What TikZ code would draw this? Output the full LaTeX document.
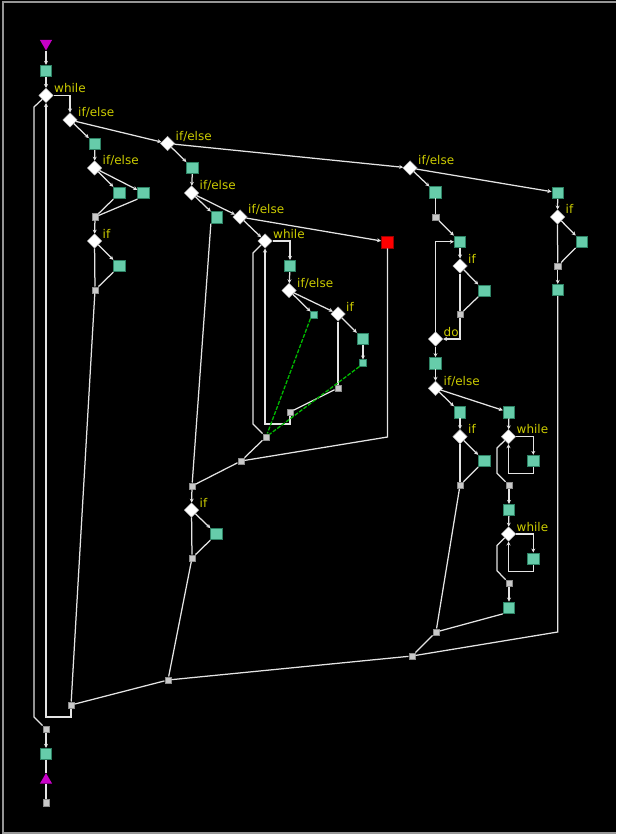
\documentclass[tikz,border=0pt]{standalone}
\usepackage{fontspec}
\setmainfont{DejaVu Sans}
\usetikzlibrary{shapes.geometric,arrows.meta,calc}

\definecolor{edge}{RGB}{228,228,228}
\definecolor{stmt}{RGB}{102,204,170}
\definecolor{stmtb}{RGB}{45,130,100}
\definecolor{joinf}{RGB}{200,200,200}
\definecolor{joinb}{RGB}{140,140,140}
\definecolor{kw}{RGB}{204,204,0}
\definecolor{jump}{RGB}{0,185,0}
\definecolor{term}{RGB}{200,0,200}
\definecolor{halt}{RGB}{255,0,0}
\definecolor{framec}{RGB}{150,150,150}

\begin{document}
\begin{tikzpicture}[x=1pt,y=-1pt,
  stmtbox/.style={draw=stmtb, fill=stmt, line width=0.8pt, minimum size=11.5pt, inner sep=0pt},
  brk/.style={draw=stmtb, fill=stmt, line width=0.6pt, minimum size=6.5pt, inner sep=0pt},
  cond/.style={diamond, draw=gray!60, fill=white, line width=0.5pt, minimum width=14.5pt, minimum height=14.5pt, inner sep=0pt},
  mergept/.style={draw=joinb, fill=joinf, line width=0.5pt, minimum size=6.5pt, inner sep=0pt},
  haltbox/.style={draw=red!60!black, fill=halt, line width=0.8pt, minimum size=12pt, inner sep=0pt},
  entry/.style={regular polygon, regular polygon sides=3, shape border rotate=180, fill=term, minimum size=14pt, inner sep=0pt},
  exitmark/.style={regular polygon, regular polygon sides=3, fill=term, minimum size=14pt, inner sep=0pt},
  kwl/.style={text=kw, font=\fontsize{12}{14}\selectfont, anchor=base west, inner sep=0pt},
  ln/.style={draw=edge, line width=1.25pt},
  arr/.style={ln, -{Stealth[length=4pt,width=4pt]}},
  jmp/.style={draw=jump, line width=1.3pt, dash pattern=on 4pt off 1.5pt},
]
% canvas and frame
\useasboundingbox (0,0) rectangle (616,834);
\fill[black] (0,0) rectangle (616,834);
\draw[framec, line width=1.2pt] (3,834) -- (3,2) -- (616,2);
\draw[framec, line width=1.2pt] (3,833) -- (616,833);

% ---------- left column ----------
\node[entry] (tS) at (46,43.5) {};
\node[stmtbox] (s0) at (46,71) {};
\node[cond] (w1) at (46,95.5) {};
\node[cond] (e1) at (70,120) {};
\node[stmtbox] (s1) at (95,144) {};
\node[cond] (e2) at (94.5,168) {};
\node[stmtbox] (s2) at (119.5,193) {};
\node[stmtbox] (s3) at (143.5,193) {};
\node[mergept] (j1) at (95,217) {};
\node[cond] (i1) at (94.5,241) {};
\node[stmtbox] (s4) at (119.5,266) {};
\node[mergept] (j2) at (95,290) {};

% ---------- second column ----------
\node[cond] (e3) at (167.5,143.5) {};
\node[stmtbox] (s5) at (192.5,168) {};
\node[cond] (e4) at (191.5,193) {};
\node[stmtbox] (s6) at (217,217.5) {};
\node[cond] (e5) at (240,217) {};
\node[cond] (w2) at (265,241) {};
\node[haltbox] (r1) at (387.5,242) {};
\node[stmtbox] (s7) at (290,266) {};
\node[cond] (e6) at (289,290.5) {};
\node[brk] (b1) at (314,315) {};
\node[cond] (i2) at (338,314) {};
\node[stmtbox] (s8) at (363,339) {};
\node[brk] (b2) at (363,363) {};
\node[mergept] (j3) at (338,388) {};
\node[mergept] (j4) at (290,412) {};
\node[mergept] (j5) at (266,437) {};
\node[mergept] (j6) at (241,461) {};
\node[mergept] (j7) at (192,486) {};
\node[cond] (i3) at (191.5,510) {};
\node[stmtbox] (s9) at (216.5,534) {};
\node[mergept] (j8) at (192,558) {};
\node[mergept] (j9) at (168,680) {};
\node[mergept] (j10) at (71,705) {};
\node[mergept] (jE) at (46,729) {};
\node[stmtbox] (s10) at (46,754) {};
\node[exitmark] (tE) at (46,780) {};
\node[mergept] (jF) at (46,802.5) {};

% ---------- third column ----------
\node[cond] (e7) at (410,168) {};
\node[stmtbox] (s11) at (435.5,192.3) {};
\node[mergept] (j11) at (435.5,217.3) {};
\node[stmtbox] (s12) at (460,241.7) {};
\node[cond] (i4) at (460,266) {};
\node[stmtbox] (s13) at (484.3,290.7) {};
\node[mergept] (j12) at (460,314.3) {};
\node[cond] (d1) at (435.5,339) {};
\node[stmtbox] (s14) at (435.5,363.3) {};
\node[cond] (e8) at (435.5,388.3) {};
\node[stmtbox] (s15) at (460,412.3) {};
\node[cond] (i5) at (460,436.7) {};
\node[stmtbox] (s16) at (484.3,461) {};
\node[mergept] (j13) at (460,485.3) {};
\node[stmtbox] (s17) at (509,412.3) {};
\node[cond] (w3) at (508.5,436.7) {};
\node[stmtbox] (s18) at (533.3,461) {};
\node[mergept] (j14) at (509,485.3) {};
\node[stmtbox] (s19) at (509,510) {};
\node[cond] (w4) at (508.5,534) {};
\node[stmtbox] (s20) at (533.3,558.7) {};
\node[mergept] (j15) at (509,583.3) {};
\node[stmtbox] (s21) at (509,607.7) {};
\node[mergept] (j16) at (436,632) {};
\node[mergept] (j17) at (412,656) {};

% ---------- right column ----------
\node[stmtbox] (s22) at (557.7,192.7) {};
\node[cond] (i6) at (557.5,217) {};
\node[stmtbox] (s23) at (581.7,241.7) {};
\node[mergept] (j18) at (557.7,266) {};
\node[stmtbox] (s24) at (557.7,290) {};
\coordinate (bend) at (557.7,632);

% ---------- keyword labels ----------
\node[kwl] (w1t) at ($(w1)+(8,-3)$) {while};
\node[kwl] (e1t) at ($(e1)+(8,-3)$) {if/else};
\node[kwl] (e2t) at ($(e2)+(8,-3)$) {if/else};
\node[kwl] (i1t) at ($(i1)+(8,-3)$) {if};
\node[kwl] (e3t) at ($(e3)+(8,-3)$) {if/else};
\node[kwl] (e4t) at ($(e4)+(8,-3)$) {if/else};
\node[kwl] (e5t) at ($(e5)+(8,-3)$) {if/else};
\node[kwl] (w2t) at ($(w2)+(8,-3)$) {while};
\node[kwl] (e6t) at ($(e6)+(8,-3)$) {if/else};
\node[kwl] (i2t) at ($(i2)+(8,-3)$) {if};
\node[kwl] (i3t) at ($(i3)+(8,-3)$) {if};
\node[kwl] (e7t) at ($(e7)+(8,-3)$) {if/else};
\node[kwl] (i4t) at ($(i4)+(8,-3)$) {if};
\node[kwl] (d1t) at ($(d1)+(8,-3)$) {do};
\node[kwl] (e8t) at ($(e8)+(8,-3)$) {if/else};
\node[kwl] (i5t) at ($(i5)+(8,-3)$) {if};
\node[kwl] (w3t) at ($(w3)+(8,-3)$) {while};
\node[kwl] (w4t) at ($(w4)+(8,-3)$) {while};
\node[kwl] (i6t) at ($(i6)+(8,-3)$) {if};

% ---------- edges: outer loop ----------
\draw[arr] (tS) -- (s0);
\draw[arr] (s0) -- (w1);
\draw[arr] (w1.east) -| (e1.north);
\draw[arr] (e1) -- (s1);
\draw[arr] (e1) -- (e3);
\draw[arr] (s1) -- (e2);
\draw[arr] (e2) -- (s2);
\draw[arr] (e2) -- (s3);
\draw[ln] (s2.south west) -- (j1);
\draw[ln] (s3.south west) -- (j1);
\draw[arr] (j1) -- (i1);
\draw[arr] (i1) -- (s4);
\draw[ln] (i1) -- (j2);
\draw[ln] (s4.south west) -- (j2);
\draw[ln] (j2) -- (j10);
\draw[arr] (j10) -- ++(0,12) -| (w1.south);
\draw[ln] (w1.south west) -- (34,107) -- (34,717) -- (jE);
\draw[arr] (jE) -- (s10);
\draw[ln] (s10) -- (tE);
\draw[ln] (tE) -- (jF);

% ---------- edges: second column ----------
\draw[arr] (e3) -- (s5);
\draw[arr] (e3) -- (e7);
\draw[arr] (s5) -- (e4);
\draw[arr] (e4) -- (s6);
\draw[arr] (e4) -- (e5);
\draw[arr] (e5) -- (w2);
\draw[arr] (e5) -- (r1);
\draw[arr] (w2.east) -| (s7.north);
\draw[arr] (s7) -- (e6);
\draw[arr] (e6) -- (b1);
\draw[arr] (e6) -- (i2);
\draw[arr] (i2) -- (s8);
\draw[arr] (s8) -- (b2);
\draw[ln] (i2) -- (j3);
\draw[ln] (j3) -- (j4);
\draw[arr] (j4) -- ++(0,12) -| (w2.south);
\draw[ln] (w2.south west) -- (253,253) -- (253,424) -- (j5);
\draw[jmp] (b1.south west) -- (j5);
\draw[jmp] (b2.south west) -- (j5);
\draw[ln] (j5) -- (j6);
\draw[ln] (r1.south) -- (387.5,437) -- (j6);
\draw[ln] (j6) -- (j7);
\draw[ln] (s6.south west) -- (j7);
\draw[arr] (j7) -- (i3);
\draw[arr] (i3) -- (s9);
\draw[ln] (i3) -- (j8);
\draw[ln] (s9.south west) -- (j8);
\draw[ln] (j8) -- (j9);
\draw[ln] (j9) -- (j10);

% ---------- edges: third column ----------
\draw[arr] (e7) -- (s11);
\draw[arr] (e7) -- (s22);
\draw[ln] (s11) -- (j11);
\draw[arr] (j11) -- (s12);
\draw[arr] (s12) -- (i4);
\draw[arr] (i4) -- (s13);
\draw[ln] (i4) -- (j12);
\draw[ln] (s13.south west) -- (j12);
\draw[arr] (j12) |- (d1.east);
\draw[arr] (d1.north) |- (s12.west);
\draw[arr] (d1) -- (s14);
\draw[arr] (s14) -- (e8);
\draw[arr] (e8) -- (s15);
\draw[arr] (e8) -- (s17);
\draw[arr] (s15) -- (i5);
\draw[arr] (i5) -- (s16);
\draw[ln] (i5) -- (j13);
\draw[ln] (s16.south west) -- (j13);
\draw[ln] (j13) -- (j16);
\draw[arr] (s17) -- (w3);
\draw[arr] (w3.east) -| (s18.north);
\draw[arr] (s18.south) -- ++(0,6.3) -| (w3.south);
\draw[ln] (w3.south west) -- (497,448) -- (497,473.3) -- (j14);
\draw[arr] (j14) -- (s19);
\draw[arr] (s19) -- (w4);
\draw[arr] (w4.east) -| (s20.north);
\draw[arr] (s20.south) -- ++(0,6.3) -| (w4.south);
\draw[ln] (w4.south west) -- (497,545.5) -- (497,570.7) -- (j15);
\draw[arr] (j15) -- (s21);
\draw[ln] (s21.south west) -- (j16);
\draw[ln] (j16) -- (j17);

% ---------- edges: right column ----------
\draw[arr] (s22) -- (i6);
\draw[arr] (i6) -- (s23);
\draw[ln] (i6) -- (j18);
\draw[ln] (s23.south west) -- (j18);
\draw[arr] (j18) -- (s24);
\draw[ln] (s24.south) -- (bend) -- (j17);
\draw[ln] (j17) -- (j9);
\end{tikzpicture}
\end{document}
